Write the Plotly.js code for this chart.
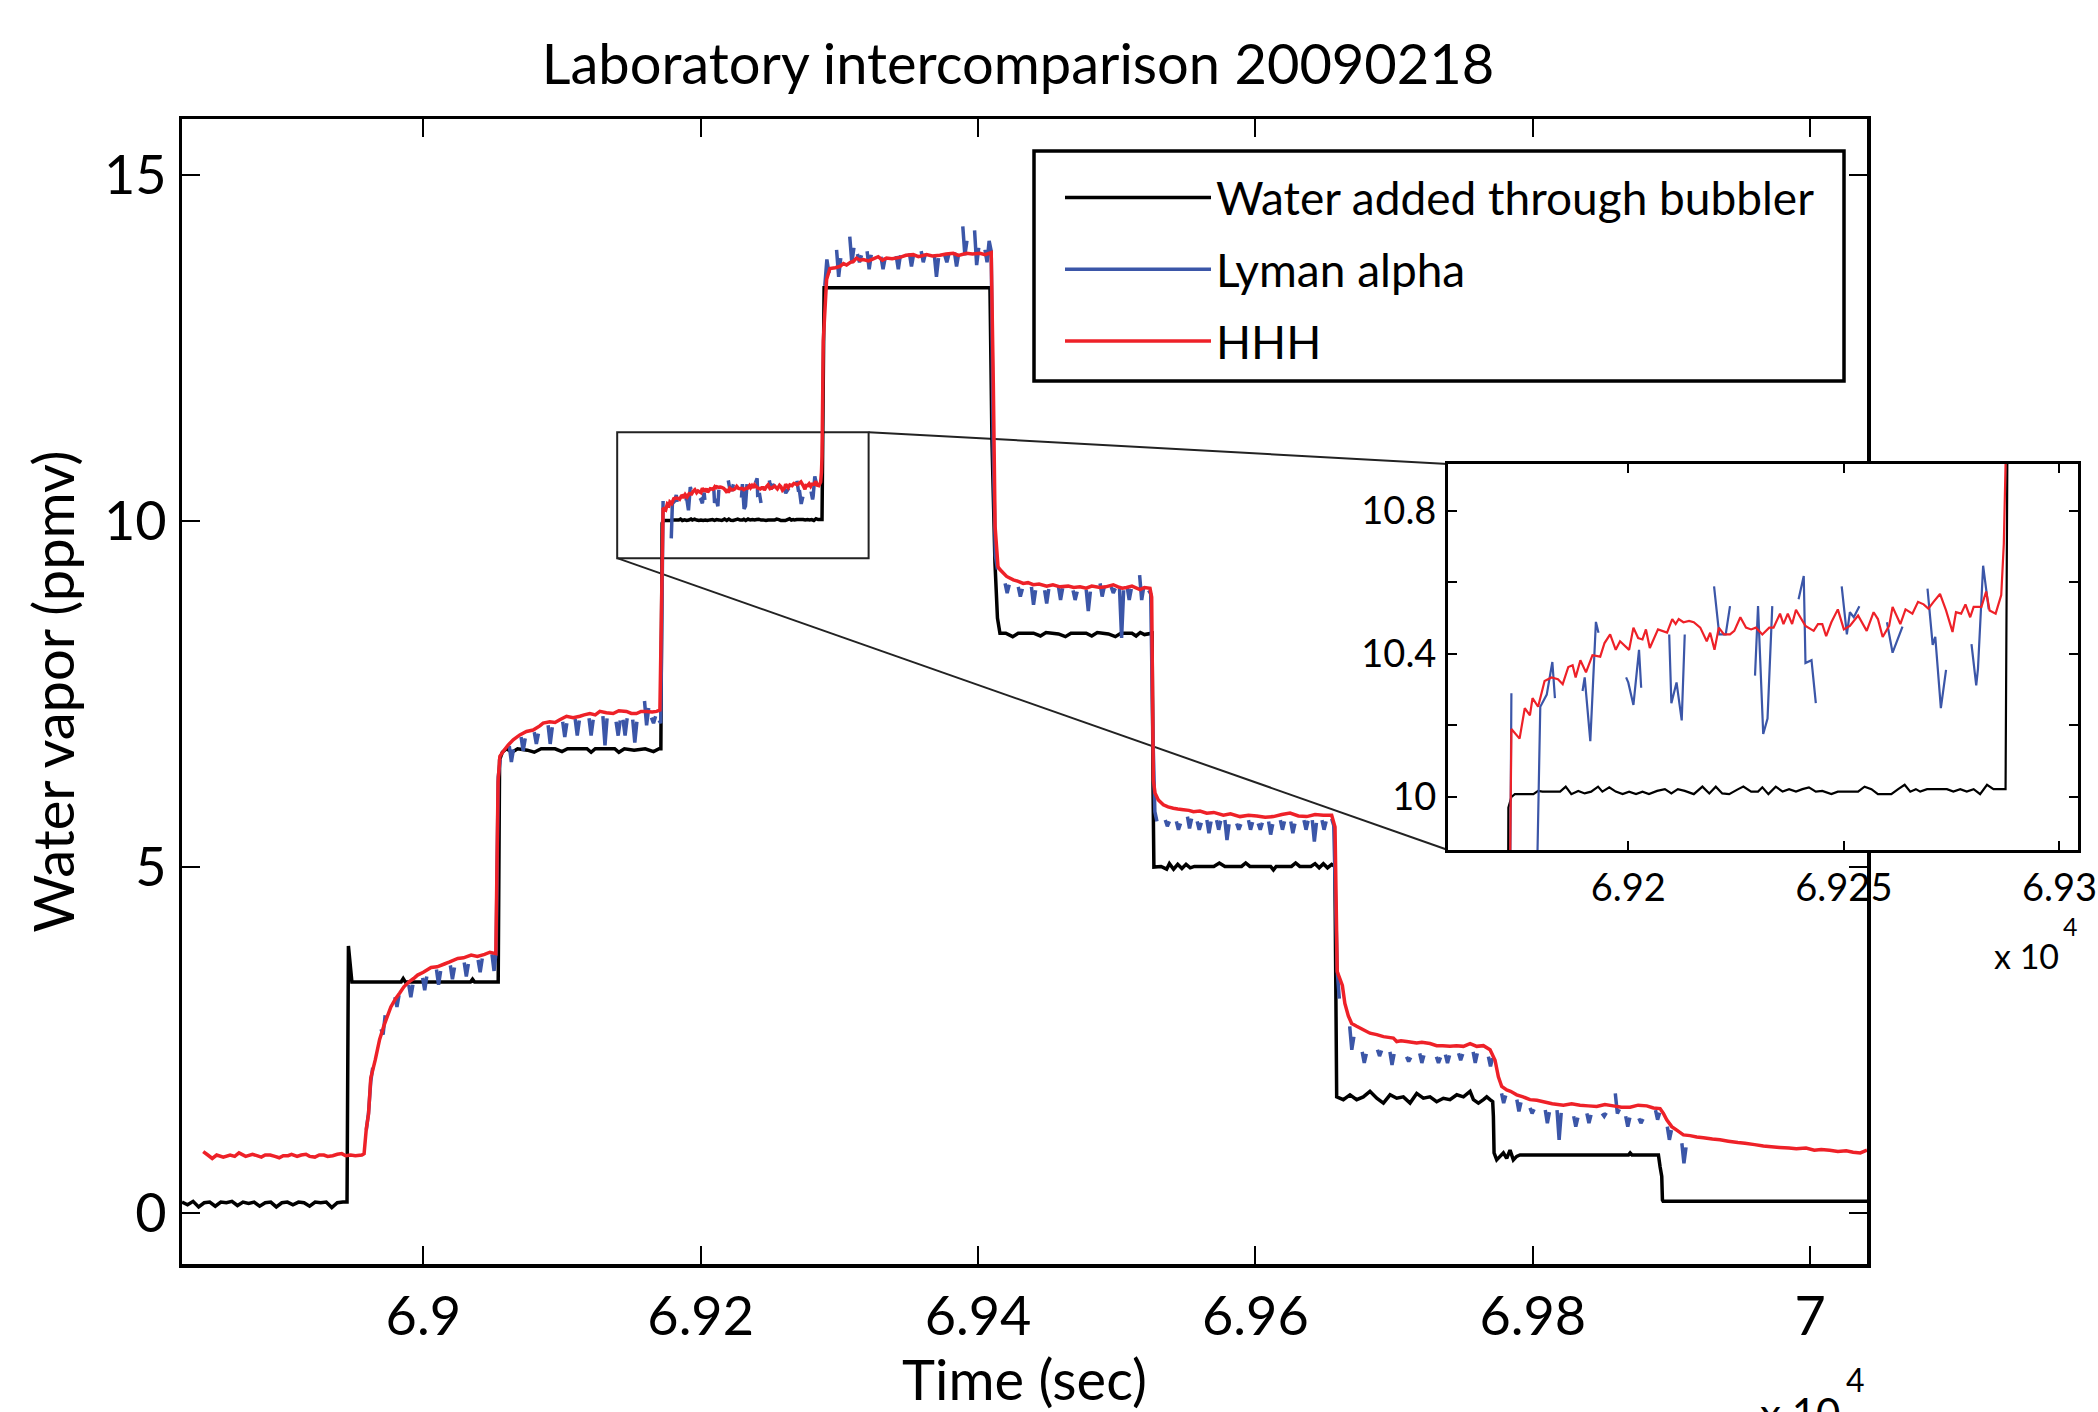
<!DOCTYPE html>
<html>
<head>
<meta charset="utf-8">
<script src="https://cdn.plot.ly/plotly-3.0.1.min.js"></script>
<style>
html,body{margin:0;padding:0;background:#ffffff;}
#chart{width:2098px;height:1412px;}
</style>
</head>
<body>
<div id="chart"></div>
<script>
// ---------------- data ----------------
const seriesNames = ['Water added through bubbler', 'Lyman alpha', 'HHH'];

const bubblerTime = [
68826,68830,68834,68838,68842,68846,68850,68854,68858,68862,
68866,68870,68874,68878,68882,68886,68890,68894,68898,68902,
68906,68910,68914,68918,68922,68926,68930,68934,68938,68942,
68945,68946,68948.5,
68960,68984,68985.5,68987,69034,69035.5,69037,69054,
69055,69057,69060,69064,69068,69075,69080,69085,69095,69100,
69104,69118,69121,69124,69138,69141,69145,69152,69160,69166,
69170,69171.3,
69172.2,69172.9,69173.7,69178,69179.1,69180.1,69184.2,69185.5,69186.8,69188.4,
69189.9,69191.4,69193,69194,69195.6,69197.1,69198.7,69200.2,69201.8,69203.3,
69204.8,69206.7,69208.5,69210,69211.5,69213.1,69215.2,69217.2,69218.8,69220.3,
69221.8,69223.4,69225.5,69226.7,69228.5,69230.1,69231.1,69232.5,69234.2,69235.8,
69237.3,69238.9,69240.4,69241.9,69243.5,69245,69247.1,69248.6,69250.2,69251.7,
69253.3,69254.8,69256.4,69257.9,69259.5,69261,69262.6,69264.1,69265.4,69266.7,
69267.7,69269.3,69270.8,69272.3,69273.9,69275.4,69277,69278.5,69280.1,69281.6,
69283.2,69284.7,69286.3,69287.5,
69289,69350,69408.6,69410,69412.2,69414,69415.8,
69420,69425,69429,69440,69445,69449,69458,69463,69467,69478,
69482,69486,69494,69499,69503,69511,69514,69517,69520,69525.5,
69526.2,69526.8,
69532,69536,69538,69541,69544,69547,69550,69553,69556,69570,
69574,69578,69590,69593,69596,69611,69613,69615,69626,69629,
69632,69640,69643,69646,69649,69652,69655,69657.3,69658.6,
69663.4,69668.2,69673,69677.8,69682.6,69687.5,69692.3,69697.1,69701.9,69706.7,
69711.5,69716.3,69721.1,69725.9,69730.7,69735.5,69740.3,69745.2,69750,69754.8,
69757.2,69760.8,69764.4,69766.8,69769.2,69771.1,69771.6,69772.1,69774,69776.4,
69778.8,69781.2,69783.6,69786,69788.4,69790.8,69869,69870.2,69871.5,69890.6,
69891.8,69893,69893.5,69894,69960,70041
];
const bubblerVapor = [
0.16,0.12,0.17,0.09,0.15,0.16,0.10,0.16,0.15,0.17,
0.11,0.16,0.14,0.16,0.10,0.15,0.16,0.09,0.15,0.16,
0.12,0.16,0.15,0.10,0.16,0.15,0.16,0.08,0.15,0.16,
0.16,3.86,3.34,
3.34,3.34,3.39,3.34,3.34,3.38,3.34,3.34,
6.55,6.66,6.71,6.66,6.71,6.69,6.66,6.71,6.71,6.67,
6.71,6.71,6.66,6.71,6.71,6.66,6.71,6.69,6.71,6.67,
6.71,6.71,
9.97,10.00,10.008,10.008,10.017,10.015,10.015,10.029,10.008,10.017,
10.010,10.015,10.029,10.015,10.027,10.015,10.008,10.015,10.008,10.015,
10.008,10.017,10.022,10.010,10.022,10.017,10.008,10.029,10.010,10.029,
10.010,10.008,10.022,10.029,10.015,10.015,10.027,10.008,10.029,10.015,
10.022,10.015,10.022,10.027,10.015,10.017,10.008,10.015,10.015,10.015,
10.015,10.029,10.022,10.008,10.008,10.008,10.022,10.034,10.015,10.022,
10.015,10.022,10.022,10.022,10.022,10.015,10.022,10.015,10.022,10.008,
10.034,10.022,10.022,10.022,
13.37,13.37,13.37,11.2,9.4,8.6,8.38,
8.38,8.33,8.38,8.38,8.34,8.39,8.37,8.33,8.38,8.38,
8.34,8.39,8.37,8.33,8.38,8.38,8.34,8.39,8.36,8.38,
6.13,5.00,
5.01,4.97,5.05,4.97,5.04,4.98,5.04,4.99,5.01,5.01,
5.06,5.01,5.01,5.06,5.01,5.01,4.96,5.01,5.01,5.06,
5.01,5.01,5.05,4.99,5.05,4.99,5.04,5.01,1.68,
1.64,1.71,1.64,1.68,1.76,1.66,1.59,1.71,1.66,1.68,
1.59,1.73,1.66,1.68,1.61,1.66,1.64,1.71,1.68,1.76,
1.64,1.59,1.64,1.68,1.64,1.61,1.40,0.87,0.77,0.82,
0.87,0.79,0.91,0.77,0.82,0.84,0.84,0.87,0.84,0.84,
0.67,0.53,0.19,0.17,0.17,0.17
];

const lymanTime = [
68958.9,68960.5,68962.1,68963.5,68964,
68969.5,68971,68972.5,68973,
68979.5,68981,68982.5,68983,
68989.5,68991,68992.5,68993,
68999.5,69001,69002.5,69003,
69009.5,69011,69012.5,69013,
69019.5,69021,69022.5,69023,
69029.5,69031,69032.5,69033,
69039.5,69041,69042.5,69043,
69049.5,69051,69052.5,69054,69055.5,69056,
69062,69063.5,69065,69065.5,
69070.5,69072,69073.5,69074,
69080,69081.5,69083,69083.5,
69090,69091.5,69093,69093.5,
69100.5,69102,69103.5,69104,
69109.5,69111,69112.5,69113,
69119.5,69121,69122.5,69123,
69129.5,69131,69132.5,69133,
69139,69140.5,69142,69142.5,
69144,69145.5,69147,69147.5,
69151,69152.5,69154,69154.5,
69159.5,69161,69162.5,69163,
69164.5,69166,69167.5,69168,
69170,69171.2,69172.9,69173.5,
69178.8,69179.6,69181.1,69182.4,69183,69183.5,
69189.4,69189.9,69191.2,69192.5,69193.1,69193.6,
69199.5,69200,69201.2,69202.5,69203,69203.5,
69209.5,69210,69211.2,69212.4,69213.1,69213.6,
69219.9,69221.1,69222.6,69223.6,69224.1,
69229.4,69230.1,69231.3,69232.3,69233.4,69233.9,
69239.5,69240.7,69241.1,69242.5,69243.5,69244,
69249.5,69250.7,69251.4,69252.3,69253.6,69254.1,
69260,69261.3,69263.6,69264.1,
69269.4,69270.6,69271.2,69272.5,69273.7,69274.2,
69279.6,69280.7,69281.1,69282.3,69283.6,69284.1,
69289.5,69291,69292.5,69293,
69298,69299.5,69301,69301.5,
69307.5,69309,69310.5,69311,
69313,69314.5,69316,69316.5,
69320,69321.5,69323,69323.5,
69330,69331.5,69333,69333.5,
69341,69342.5,69344,69344.5,
69350.5,69352,69353.5,69354,
69359,69360.5,69362,69362.5,
69368.5,69370,69371.5,69372,
69376,69377.5,69379,69379.5,
69383,69384.5,69386,69386.5,
69389,69390.5,69392,69392.5,
69397.5,69399,69400.5,69401,
69405,69406.5,69408,69409.5,69411,69412.5,69414,69414.5,
69419.5,69421,69422.5,69423,
69429,69430.5,69432,69432.5,
69438.5,69440,69441.5,69442,
69448,69449.5,69451,69451.5,
69458,69459.5,69461,69461.5,
69468.5,69470,69471.5,69472,
69478,69479.5,69481,69481.5,
69488,69489.5,69491,69491.5,
69496,69497.5,69499,69499.5,
69502,69503.5,69505,69505.5,
69507.5,69509,69510.5,69511,
69516.5,69518,69519.5,69520,
69523,69524.5,69526,69527.5,69529,69529.5,
69535,69536.5,69538,69538.5,
69543,69544.5,69546,69546.5,
69551,69552.5,69554,69554.5,
69558,69559.5,69561,69561.5,
69565,69566.5,69568,69568.5,
69572,69573.5,69575,69575.5,
69578,69579.5,69581,69581.5,
69586.5,69588,69589.5,69590,
69595,69596.5,69598,69598.5,
69602,69603.5,69605,69605.5,
69609.5,69611,69612.5,69613,
69618,69619.5,69621,69621.5,
69625.5,69627,69628.5,69629,
69635,69636.5,69638,69638.5,
69641,69642.5,69644,69644.5,
69648,69649.5,69651,69651.5,
69655,69656.5,69659,69660.5,69661,
69668,69669.5,69671,69671.5,
69677,69678.5,69680,69680.5,
69688,69689.5,69691,69691.5,
69697,69698.5,69700,69700.5,
69709,69710.5,69712,69712.5,
69718.5,69720,69721.5,69722,
69730.5,69732,69733.5,69734,
69737,69738.5,69740,69740.5,
69746.5,69748,69749.5,69750,
69757,69758.5,69760,69760.5,
69768,69769.5,69771,69771.5,
69777.5,69779,69780.5,69781,
69788.5,69790,69791.5,69792,
69798,69799.5,69801,69801.5,
69809,69810.5,69812,69812.5,
69817.5,69819,69820.5,69821,
69829.5,69831,69832.5,69833,
69839,69840.5,69842,69842.5,
69850,69851.5,69853,69853.5,
69859.5,69861,69862.5,69863,
69867,69868.5,69870,69870.5,
69876.5,69878,69879.5,69880,
69888.5,69890,69891.5,69892,
69897,69898.5,69900,69900.5,
69907.5,69909,69910.5
];
const lymanVapor = [
1.20,1.45,1.90,2.10,null,
2.66,2.58,2.86,null,
3.12,2.98,3.15,null,
3.30,3.12,3.30,null,
3.40,3.22,3.42,null,
3.52,3.30,3.50,null,
3.58,3.38,3.55,null,
3.62,3.42,3.60,null,
3.66,3.48,3.68,null,
3.74,3.50,3.78,6.30,6.55,null,
6.75,6.52,6.70,null,
6.88,6.68,6.86,null,
6.95,6.78,6.93,null,
7.05,6.78,7.02,null,
7.10,6.88,7.08,null,
7.14,6.90,7.12,null,
7.15,6.90,7.13,null,
7.18,6.76,7.15,null,
7.10,6.90,7.12,null,
7.13,6.90,7.15,null,
7.13,6.80,7.10,null,
7.40,7.05,7.30,null,
7.16,7.08,7.18,null,
7.12,7.08,10.29,null,
9.75,10.252,10.286,10.377,10.276,null,
10.296,10.334,10.156,10.489,10.459,null,
10.334,10.320,10.257,10.411,10.305,null,
10.454,10.262,10.320,10.214,10.454,null,
10.588,10.454,10.454,10.533,null,
10.339,10.533,10.176,10.219,10.533,null,
10.552,10.617,10.374,10.382,10.262,null,
10.588,10.454,10.516,10.502,10.533,null,
10.488,10.403,10.476,null,
10.582,10.425,10.447,10.248,10.355,null,
10.427,10.312,10.358,10.646,10.524,null,
13.40,13.78,13.58,null,
13.92,13.53,13.80,null,
14.11,13.73,13.95,null,
13.86,13.74,13.84,null,
13.90,13.64,13.85,null,
13.82,13.64,13.80,null,
13.83,13.64,13.84,null,
13.87,13.68,13.85,null,
13.90,13.74,13.86,null,
13.84,13.53,13.80,null,
13.84,13.74,13.86,null,
13.88,13.68,13.86,null,
14.26,13.84,14.05,null,
14.20,13.70,13.95,null,
13.92,13.74,14.05,13.90,11.0,9.50,9.30,null,
9.10,8.96,9.08,null,
9.05,8.91,9.02,null,
9.05,8.79,9.00,null,
9.00,8.81,9.02,null,
9.05,8.86,9.03,null,
9.00,8.86,8.98,null,
9.01,8.70,8.98,null,
9.10,8.91,9.05,null,
9.05,8.96,9.03,null,
9.03,8.31,9.00,null,
9.05,8.86,9.02,null,
9.22,8.86,9.05,null,
9.00,8.95,7.00,5.80,5.66,null,
5.68,5.59,5.66,null,
5.66,5.54,5.63,null,
5.73,5.56,5.70,null,
5.66,5.54,5.64,null,
5.68,5.49,5.66,null,
5.68,5.54,5.67,null,
5.68,5.39,5.62,null,
5.63,5.54,5.62,null,
5.68,5.54,5.65,null,
5.63,5.54,5.64,null,
5.66,5.47,5.62,null,
5.68,5.54,5.66,null,
5.66,5.49,5.63,null,
5.68,5.54,5.67,null,
5.68,5.37,5.64,null,
5.68,5.54,5.66,null,
5.70,5.60,3.50,3.10,null,
2.70,2.36,2.55,null,
2.33,2.17,2.30,null,
2.36,2.27,2.35,null,
2.33,2.14,2.30,null,
2.26,2.19,2.25,null,
2.31,2.17,2.28,null,
2.26,2.17,2.25,null,
2.29,2.17,2.28,null,
2.31,2.21,2.30,null,
2.33,2.17,2.31,null,
2.26,2.12,2.24,null,
1.73,1.59,1.70,null,
1.64,1.47,1.60,null,
1.52,1.44,1.50,null,
1.49,1.30,1.46,null,
1.49,1.06,1.45,null,
1.40,1.25,1.38,null,
1.44,1.30,1.42,null,
1.44,1.40,1.45,null,
1.73,1.44,1.50,null,
1.40,1.25,1.38,null,
1.37,1.30,1.36,null,
1.49,1.35,1.45,null,
1.25,1.06,1.20,null,
1.01,0.72,0.95
];

const hhhTime = [
68841.3,68844.6,68847.8,68851,68855.8,68860.7,68864,68867.1,68871.9,68876.8,
68880,68883.2,68886,68889.6,68893,68896.1,68899,68902.5,68905,68909,
68912,68915.4,68918,68921.8,68925,68928.3,68931,68934.7,68938,68941.2,
68944,68947.6,68951,68955.7,68957.3,68958.9,68960.5,68962.1,68965.3,68968.5,
68971.8,68976.6,68980,68983,68986,68989.5,68993,68995.9,69000,69005.6,
69010,69015.2,69019,69024.9,69029,69034.5,69039,69044.2,69048,69052.3,
69053.9,69055.2,69057.6,69061,69064.8,69069.6,69074.4,69079.2,69084,69086.4,
69091.2,69095,69098.4,69103.3,69108,69112.9,69116,69120.1,69124,69127.3,
69132,69136.9,69141,69146.5,69150,69153.7,69157,69161,69165,69168.2,
69170.6,69172.9,69174.8,69176,69177.2,69177.8,69179.1,69180.6,69182.2,69183.7,
69184.8,69186.1,69187.1,69187.8,69188.9,69190.2,69191.7,69193.5,69194.5,69195.8,
69197.1,69198.1,69200.2,69201.2,69202.3,69203.3,69204.1,69205,69206.9,69209,
69210.2,69211,69211.7,69212.8,69214.1,69215.2,69216.7,69218.2,69219,69220,
69221,69222.2,69223.6,69224.6,69226,69227.3,69228.5,69229.6,69231.1,69232.7,
69233.7,69235.2,69236,69237,69238,69238.9,69239.9,69241.1,69243,69244,
69245,69245.9,69247.1,69248.6,69250,69251.4,69253.3,69255.3,69256.9,69257.9,
69259,69260.5,69261.3,69263.1,69264.3,69265.9,69267.2,69268.5,69269.6,69270.8,
69272.3,69273.7,69275.2,69276,69277.2,69278.2,69279.3,69280.1,69281.9,69283,
69283.8,69285.2,69286.5,69287.1,69287.5,69288.4,69290.8,69293.2,69297,69300.4,
69303,69305.2,69308,69310,69312.4,69315,69317.2,69321,69324.4,69328,
69331,69334,69338,69343.7,69348,69353.3,69357,69362.9,69367,69372.5,
69377,69382.1,69386,69391.7,69396,69401.4,69405,69409.5,69411,69412.3,
69414.4,69415.8,69420.6,69425.4,69429,69432.6,69436,69439.8,69444,69449.5,
69454,69459.1,69465,69469,69473.5,69478,69482,69487.9,69492,69497.5,
69501,69504,69507.1,69511,69516.8,69520,69524,69525.2,69526.4,69527.6,
69530,69533.6,69537,69540.8,69544,69548.1,69552,69555.3,69560,69564.9,
69570,69576.9,69582,69588.9,69595,69601,69607,69613,69619,69625,
69631,69637,69643,69649,69655,69657.4,69659,69662.7,69664.5,69667,
69669.4,69673,69677.8,69682.6,69687.5,69692.3,69699.5,69701.9,69705,69709.1,
69716.3,69720,69725.9,69730.7,69735,69740.3,69745,69750,69754.8,69759.6,
69764.4,69769.2,69772.8,69775.2,69777.6,69781.2,69784,69788.4,69793,69798,
69803,69807.7,69814,69822.1,69828,69834.1,69840,69846.1,69852,69858.1,
69864,69870.2,69876,69882.2,69887,69891.8,69894.2,69896.6,69900.2,69903.8,
69908.6,69913.4,69918.2,69923,69929.5,69935,69941,69947.9,69953,69960,
69966.3,69972,69978,69984.7,69990,69997,70003,70008,70014.1,70020,
70026,70031,70036.2,70041
];
const hhhVapor = [
0.89,0.84,0.79,0.84,0.81,0.84,0.82,0.87,0.82,0.85,
0.83,0.81,0.84,0.84,0.82,0.80,0.83,0.83,0.85,0.82,
0.84,0.85,0.82,0.81,0.84,0.84,0.82,0.83,0.85,0.86,
0.83,0.84,0.83,0.84,0.86,1.22,1.43,1.95,2.21,2.51,
2.72,2.98,3.10,3.18,3.27,3.34,3.39,3.44,3.48,3.55,
3.56,3.60,3.63,3.68,3.69,3.73,3.71,3.74,3.77,3.75,
6.23,6.60,6.67,6.76,6.84,6.91,6.96,6.98,7.04,7.08,
7.10,7.09,7.13,7.18,7.16,7.18,7.20,7.22,7.20,7.25,
7.23,7.22,7.26,7.25,7.22,7.22,7.25,7.25,7.24,7.25,
7.27,10.190,10.163,10.248,10.228,10.276,10.252,10.324,10.334,10.329,
10.315,10.363,10.368,10.334,10.382,10.348,10.396,10.392,10.430,10.454,
10.411,10.435,10.411,10.473,10.444,10.440,10.468,10.416,10.468,10.459,
10.497,10.483,10.497,10.488,10.492,10.488,10.473,10.435,10.459,10.411,
10.473,10.454,10.454,10.464,10.502,10.473,10.468,10.473,10.454,10.473,
10.473,10.512,10.483,10.512,10.483,10.523,10.502,10.478,10.464,10.483,
10.483,10.449,10.488,10.524,10.468,10.478,10.507,10.464,10.516,10.497,
10.447,10.478,10.531,10.483,10.524,10.512,10.545,10.538,10.526,10.545,
10.567,10.521,10.461,10.516,10.512,10.538,10.502,10.531,10.531,10.574,
10.521,10.512,10.564,10.708,10.93,12.6,13.49,13.65,13.66,13.68,
13.72,13.70,13.74,13.75,13.80,13.77,13.78,13.76,13.79,13.82,
13.77,13.80,13.79,13.81,13.84,13.85,13.82,13.85,13.83,13.84,
13.86,13.87,13.84,13.87,13.86,13.87,13.85,13.88,12.0,9.92,
9.34,9.30,9.20,9.15,9.13,9.10,9.11,9.08,9.09,9.06,
9.08,9.05,9.06,9.04,9.05,9.03,9.06,9.04,9.05,9.08,
9.05,9.03,9.04,9.06,9.01,9.04,9.03,8.9,6.26,6.07,
5.97,5.90,5.87,5.85,5.84,5.83,5.82,5.80,5.81,5.78,
5.79,5.75,5.77,5.73,5.75,5.74,5.72,5.73,5.76,5.78,
5.74,5.73,5.76,5.75,5.75,5.58,3.49,3.29,3.03,2.85,
2.74,2.70,2.65,2.60,2.58,2.55,2.53,2.48,2.49,2.48,
2.46,2.47,2.45,2.42,2.42,2.41,2.42,2.41,2.45,2.41,
2.42,2.36,2.21,1.97,1.83,1.78,1.76,1.71,1.68,1.64,
1.63,1.61,1.58,1.56,1.58,1.56,1.55,1.54,1.57,1.55,
1.53,1.53,1.56,1.55,1.52,1.51,1.44,1.35,1.25,1.20,
1.13,1.12,1.10,1.09,1.07,1.06,1.04,1.02,1.01,0.99,
0.97,0.96,0.95,0.94,0.93,0.94,0.91,0.92,0.91,0.89,
0.90,0.88,0.87,0.91
];

// axis ticks
const mainXTickVals = [69000, 69200, 69400, 69600, 69800, 70000];
const mainXTickText = ['6.9', '6.92', '6.94', '6.96', '6.98', '7'];
const mainYTickVals = [0, 5, 10, 15];
const insetXTickVals = [69200, 69250, 69300];
const insetXTickText = ['6.92', '6.925', '6.93'];
const insetYTickVals = [10, 10.4, 10.8];
const insetYTickText = ['10', '10.4', '10.8'];
const insetYMinorVals = [10.2, 10.6];

// zoom box drawn on the main panel (data coordinates)
const zoomBoxTime = [69139.8, 69321.1];
const zoomBoxVapor = [9.464, 11.285];

// ---------------- layout / style ----------------
const FONT = 'Lato, "Open Sans", sans-serif';
const W = 2098, H = 1412;
const margin = {l: 182, r: 20, t: 119, b: 148};
const plotW = W - margin.l - margin.r;
const plotH = H - margin.t - margin.b;
const px2paperX = px => (px - margin.l) / plotW;
const px2paperY = py => (H - margin.b - py) / plotH;

const xMainRange = [68826, 70041];
const yMainRange = [-0.735, 15.81];
const xMainDomain = [0, px2paperX(1867)];
const insetXDomain = [px2paperX(1448), px2paperX(2078)];
const insetYDomain = [px2paperY(850), px2paperY(464)];
const xInsetRange = [69158.2, 69304.3];
const yInsetRange = [9.852, 10.93];

const colBlack = '#000000', colBlue = '#3b56a8', colRed = '#ee2128';

function paperToMainX(p) {
  return xMainRange[0] + (p - xMainDomain[0]) / (xMainDomain[1] - xMainDomain[0]) * (xMainRange[1] - xMainRange[0]);
}
function paperToMainY(p) {
  return yMainRange[0] + p * (yMainRange[1] - yMainRange[0]);
}

const seriesData = [
  {t: bubblerTime, v: bubblerVapor, c: colBlack},
  {t: lymanTime, v: lymanVapor, c: colBlue},
  {t: hhhTime, v: hhhVapor, c: colRed}
];

const traces = [];
seriesData.forEach((s, i) => {
  traces.push({
    type: 'scatter', mode: 'lines', x: s.t, y: s.v, name: seriesNames[i],
    legendgroup: 'g' + i, connectgaps: false,
    line: {color: s.c, width: 3.5, simplify: false},
    xaxis: 'x', yaxis: 'y', hoverinfo: 'skip'
  });
});
seriesData.forEach((s, i) => {
  traces.push({
    type: 'scatter', mode: 'lines', x: s.t, y: s.v, name: seriesNames[i],
    showlegend: false, connectgaps: false,
    line: {color: s.c, width: 2.2, simplify: false},
    xaxis: 'x2', yaxis: 'y2', hoverinfo: 'skip'
  });
});

const axisCommon = {
  showline: true, linecolor: '#000', mirror: 'ticks', ticks: 'inside',
  tickcolor: '#000', showgrid: false, zeroline: false, automargin: false,
  tickmode: 'array'
};

const layout = {
  width: W, height: H, margin: margin,
  paper_bgcolor: '#ffffff', plot_bgcolor: '#ffffff',
  font: {family: FONT, color: '#000'},
  showlegend: true,
  title: {
    text: 'Laboratory intercomparison 20090218',
    font: {family: FONT, size: 56, color: '#000'},
    xref: 'paper', x: px2paperX(1018), xanchor: 'center',
    yref: 'container', y: 1 - 64 / H, yanchor: 'middle'
  },
  xaxis: Object.assign({}, axisCommon, {
    domain: xMainDomain, range: xMainRange, anchor: 'y',
    linewidth: 3.5, ticklen: 18, tickwidth: 2,
    tickvals: mainXTickVals, ticktext: mainXTickText,
    tickfont: {family: FONT, size: 54}, ticklabelstandoff: 3,
    title: {text: 'Time (sec)', font: {family: FONT, size: 56}, standoff: 49}
  }),
  yaxis: Object.assign({}, axisCommon, {
    domain: [0, 1], range: yMainRange, anchor: 'x',
    linewidth: 3.5, ticklen: 18, tickwidth: 2,
    tickvals: mainYTickVals,
    tickfont: {family: FONT, size: 54}, ticklabelstandoff: 1,
    title: {text: 'Water vapor (ppmv)', font: {family: FONT, size: 56}, standoff: 12}
  }),
  xaxis2: Object.assign({}, axisCommon, {
    domain: insetXDomain, range: xInsetRange, anchor: 'y2',
    linewidth: 3, ticklen: 9, tickwidth: 2,
    tickvals: insetXTickVals, ticktext: insetXTickText,
    tickfont: {family: FONT, size: 38}, ticklabelstandoff: 2
  }),
  yaxis2: Object.assign({}, axisCommon, {
    domain: insetYDomain, range: yInsetRange, anchor: 'x2',
    linewidth: 3, ticklen: 9, tickwidth: 2,
    tickvals: insetYTickVals, ticktext: insetYTickText,
    minor: {tickmode: 'array', tickvals: insetYMinorVals, ticks: 'inside', ticklen: 9, tickwidth: 2, tickcolor: '#000'},
    tickfont: {family: FONT, size: 38}, ticklabelstandoff: 1
  }),
  legend: {
    x: px2paperX(1060), y: px2paperY(161), xref: 'paper', yref: 'paper',
    xanchor: 'left', yanchor: 'top',
    bgcolor: 'rgba(0,0,0,0)', borderwidth: 0,
    font: {family: FONT, size: 46, color: '#000'},
    itemwidth: 146, tracegroupgap: 9, traceorder: 'grouped'
  },
  shapes: [
    {type: 'rect', xref: 'x', yref: 'y', layer: 'below',
     x0: zoomBoxTime[0], x1: zoomBoxTime[1], y0: zoomBoxVapor[0], y1: zoomBoxVapor[1],
     line: {color: '#222', width: 2}},
    {type: 'line', xref: 'x', yref: 'y', layer: 'below',
     x0: zoomBoxTime[1], y0: zoomBoxVapor[1],
     x1: paperToMainX(insetXDomain[0]), y1: paperToMainY(insetYDomain[1]),
     line: {color: '#222', width: 2}},
    {type: 'line', xref: 'x', yref: 'y', layer: 'below',
     x0: zoomBoxTime[0], y0: zoomBoxVapor[0],
     x1: paperToMainX(insetXDomain[0]), y1: paperToMainY(insetYDomain[0]),
     line: {color: '#222', width: 2}},
    // legend frame
    {type: 'rect', xref: 'paper', yref: 'paper', layer: 'above',
     x0: px2paperX(1034), x1: px2paperX(1844), y0: px2paperY(381), y1: px2paperY(151),
     fillcolor: '#ffffff', line: {color: '#000', width: 3.5}}
  ],
  annotations: [
    {xref: 'paper', yref: 'paper', x: px2paperX(1842), y: px2paperY(1413), xanchor: 'right', yanchor: 'middle',
     text: 'x 10', showarrow: false, font: {family: FONT, size: 42, color: '#000'}},
    {xref: 'paper', yref: 'paper', x: px2paperX(1855), y: px2paperY(1379), xanchor: 'center', yanchor: 'middle',
     text: '4', showarrow: false, font: {family: FONT, size: 32, color: '#000'}},
    {xref: 'paper', yref: 'paper', x: px2paperX(2061), y: px2paperY(956), xanchor: 'right', yanchor: 'middle',
     text: 'x 10', showarrow: false, font: {family: FONT, size: 34, color: '#000'}},
    {xref: 'paper', yref: 'paper', x: px2paperX(2070), y: px2paperY(926), xanchor: 'center', yanchor: 'middle',
     text: '4', showarrow: false, font: {family: FONT, size: 25, color: '#000'}}
  ]
};

Plotly.newPlot('chart', traces, layout, {staticPlot: true, displayModeBar: false});
</script>
</body>
</html>
